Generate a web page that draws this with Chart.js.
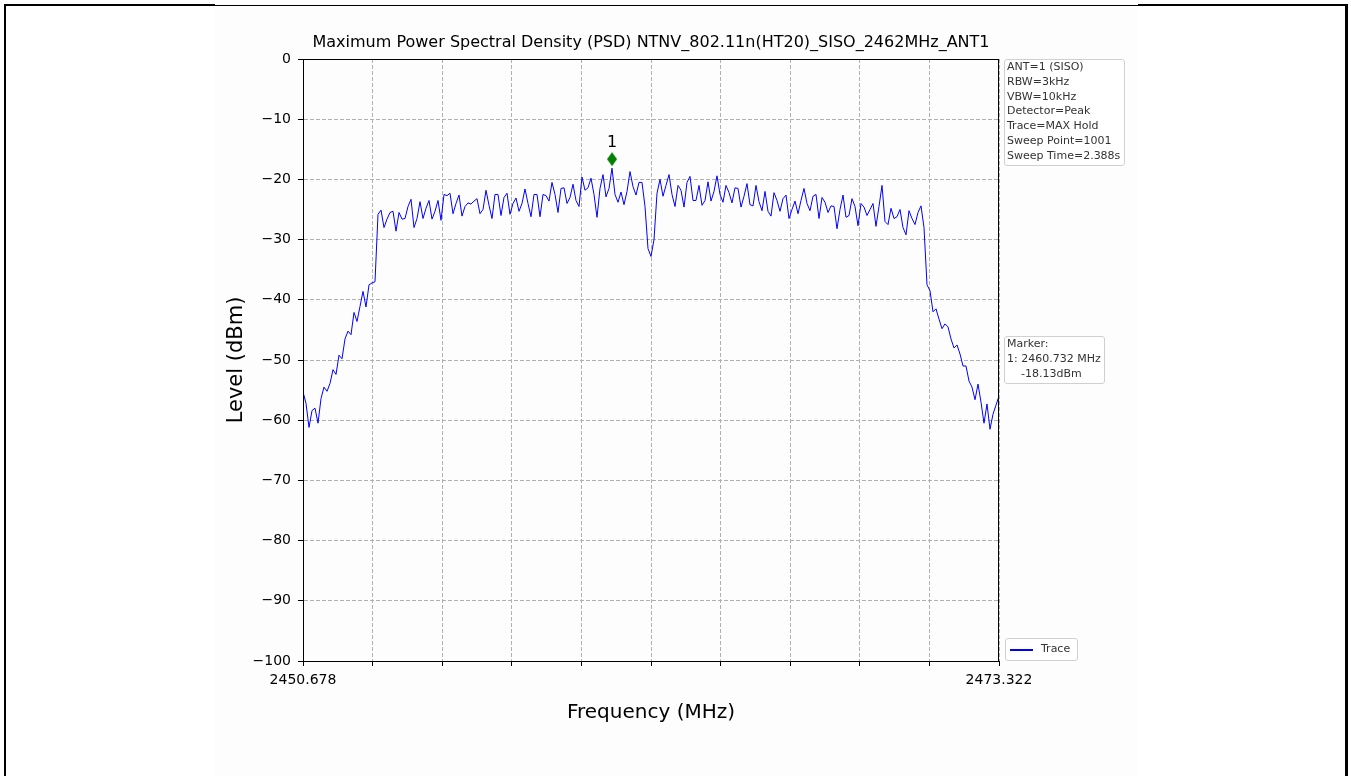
<!DOCTYPE html>
<html>
<head>
<meta charset="utf-8">
<title>PSD NTNV_802.11n(HT20)_SISO_2462MHz_ANT1</title>
<script src="https://cdn.jsdelivr.net/npm/chart.js@4.4.0/dist/chart.umd.min.js"></script>
<style>
  html, body { margin: 0; padding: 0; background: #fff; }
  body { width: 1351px; height: 776px; position: relative; overflow: hidden; font-family: 'DejaVu Sans', sans-serif; }
  .frame { position: absolute; left: 4px; top: 4px; width: 1339px; height: 800px;
           border-left: 2px solid #000; border-right: 3px solid #000; border-top: 2px solid #000; }
  .figure { position: absolute; left: 215px; top: 4px; width: 923px; height: 772px; background: #fdfdfd; }
  .figure .edge { position: absolute; left: 0; top: 1px; width: 100%; height: 1px; background: #000; }
  #psd { position: absolute; left: 0; top: 0; }
  .box { position: absolute; font-size: 11px; line-height: 14.8px; color: #333; background: rgba(255,255,255,0.85);
         border: 1px solid #d0d0d0; border-radius: 3px; padding: 0 2px; white-space: pre; box-sizing: border-box; }
  .legend-line { position: absolute; left: 4px; top: 10px; width: 23px; height: 1.5px; background: #0000ff; }
</style>
</head>
<body>
<div class="frame"></div>
<div class="figure"><div class="edge"></div></div>
<canvas id="psd" width="1351" height="776"></canvas>
<div class="box" id="setup" style="left:1004px; top:59px; width:121px; height:107px;"></div>
<div class="box" id="marker" style="left:1004px; top:336px; width:101px; height:48px;"></div>
<div class="box" style="left:1005px; top:638px; width:73px; height:23px;"><div class="legend-line"></div><span style="position:absolute; left:35px; top:3px;">Trace</span></div>
<script>
// sweep span
const freqStart = 2450.678;
const freqStop = 2473.322;

// trace levels (dBm), evenly spaced across the span
const levels = [
  -55.3, -57.2, -61.2, -58.4, -58.0, -60.5, -56.4, -54.5, -55.2, -53.9,
  -51.6, -52.4, -49.2, -49.8, -46.5, -45.2, -45.8, -42.1, -43.6, -41.1,
  -38.6, -41.2, -37.5, -37.2, -37.0, -25.8, -25.1, -28.0, -26.6, -25.5,
  -25.3, -28.6, -25.5, -26.6, -26.5, -24.5, -23.3, -28.0, -26.5, -23.7,
  -26.5, -24.8, -23.5, -26.6, -25.3, -23.5, -26.8, -22.5, -22.7, -22.3,
  -25.7, -24.0, -22.6, -26.1, -24.5, -23.9, -24.1, -23.6, -23.2, -25.7,
  -25.0, -21.8, -24.3, -26.5, -22.5, -22.5, -26.0, -23.0, -22.3, -25.8,
  -24.0, -23.1, -25.3, -24.0, -21.6, -24.0, -26.2, -22.5, -22.5, -26.2,
  -22.5, -22.7, -23.6, -20.5, -22.5, -25.5, -21.5, -21.4, -24.0, -23.0,
  -20.8, -23.5, -24.5, -19.6, -21.8, -21.4, -19.8, -22.5, -26.3, -21.5,
  -19.2, -22.9, -21.5, -18.13, -22.5, -23.8, -22.1, -24.2, -22.0, -18.7,
  -21.2, -22.6, -20.5, -20.5, -24.5, -31.5, -32.8, -30.0, -22.3, -20.0,
  -22.8, -21.0, -19.2, -22.5, -24.5, -21.0, -21.8, -24.6, -20.5, -19.5,
  -23.5, -23.5, -21.0, -24.3, -23.5, -20.4, -23.6, -22.0, -19.4, -22.5,
  -23.8, -21.0, -22.2, -23.9, -21.4, -21.5, -24.6, -22.8, -20.7, -24.2,
  -24.4, -21.0, -23.7, -25.2, -22.0, -25.3, -26.1, -22.2, -23.5, -25.3,
  -23.2, -22.6, -26.5, -25.0, -23.6, -25.7, -23.5, -21.5, -24.0, -25.2,
  -22.8, -22.5, -26.5, -23.0, -23.8, -25.5, -24.4, -24.5, -28.2, -25.0,
  -22.6, -26.3, -26.0, -23.2, -24.5, -27.7, -24.0, -24.6, -26.0, -25.0,
  -24.0, -27.8, -24.5, -21.0, -27.0, -27.5, -24.8, -26.5, -26.2, -25.0,
  -28.0, -29.2, -25.2, -26.5, -27.5, -25.5, -24.4, -28.0, -37.5, -38.5,
  -42.0, -41.5, -43.2, -44.8, -44.0, -44.5, -46.5, -48.0, -47.5, -49.0,
  -51.0, -51.0, -53.5, -54.5, -56.6, -54.0, -57.0, -60.5, -57.3, -61.5,
  -59.0, -57.5, -56.0
];

// marker 1
const markerFreq = 2460.732;
const markerLevel = -18.13;

// axis ticks: ten equal divisions of the span, labelled only at the ends
const xTickLabels = ['2450.678', '', '', '', '', '', '', '', '', '', '2473.322'];
const yMin = -100, yMax = 0, yStep = 10;

const setupLines = ['ANT=1 (SISO)', 'RBW=3kHz', 'VBW=10kHz', 'Detector=Peak',
                    'Trace=MAX Hold', 'Sweep Point=1001', 'Sweep Time=2.388s'];

document.getElementById('setup').textContent = setupLines.join('\n');
document.getElementById('marker').textContent =
  'Marker:\n1: ' + markerFreq.toFixed(3) + ' MHz\n    ' + markerLevel.toFixed(2) + 'dBm';

const freqStep = (freqStop - freqStart) / (levels.length - 1);
const trace = levels.map((v, i) => ({ x: freqStart + i * freqStep, y: v }));
const xTickValues = xTickLabels.map((_, i) => freqStart + i * (freqStop - freqStart) / (xTickLabels.length - 1));

// thin green diamond sitting just above its point
const diamond = document.createElement('canvas');
diamond.width = 12;
diamond.height = 36;
const dctx = diamond.getContext('2d');
dctx.fillStyle = '#008000';
dctx.beginPath();
dctx.moveTo(6, 2);
dctx.lineTo(11, 9);
dctx.lineTo(6, 16);
dctx.lineTo(1, 9);
dctx.closePath();
dctx.fill();

const frameAndMarkerLabel = {
  id: 'frameAndMarkerLabel',
  afterDraw(chart) {
    const { ctx, chartArea } = chart;
    ctx.save();
    ctx.strokeStyle = '#000';
    ctx.lineWidth = 1;
    ctx.strokeRect(Math.round(chartArea.left) + 0.5, Math.round(chartArea.top) + 0.5,
                   Math.round(chartArea.width) - 1, Math.round(chartArea.height));
    const pt = chart.getDatasetMeta(1).data[0];
    ctx.fillStyle = '#000';
    ctx.font = '16px "DejaVu Sans"';
    ctx.textAlign = 'center';
    ctx.textBaseline = 'middle';
    ctx.fillText('1', pt.x, pt.y - 25);
    ctx.restore();
  }
};

Chart.defaults.font.family = '"DejaVu Sans", sans-serif';
Chart.defaults.color = '#000';

const psdChart = new Chart(document.getElementById('psd').getContext('2d'), {
  type: 'line',
  data: {
    datasets: [{
      label: 'Trace',
      data: trace,
      borderColor: '#0000ff',
      borderWidth: 1,
      pointRadius: 0,
      tension: 0,
      fill: false
    }, {
      label: 'Marker 1',
      data: [{ x: markerFreq, y: markerLevel }],
      showLine: false,
      pointStyle: diamond,
      pointRadius: 6
    }]
  },
  options: {
    responsive: false,
    animation: false,
    layout: { padding: { left: 220, right: 352, top: 33, bottom: 47 } },
    plugins: {
      legend: { display: false },
      tooltip: { enabled: false },
      title: {
        display: true,
        fullSize: false,
        text: 'Maximum Power Spectral Density (PSD) NTNV_802.11n(HT20)_SISO_2462MHz_ANT1',
        font: { size: 16, weight: 'normal', lineHeight: 1.25 },
        color: '#000',
        padding: { top: 0, bottom: 6 }
      }
    },
    scales: {
      x: {
        type: 'linear',
        min: freqStart,
        max: freqStop,
        afterBuildTicks: axis => { axis.ticks = xTickValues.map(v => ({ value: v })); },
        afterFit: axis => { axis.height = 68; },
        ticks: {
          autoSkip: false,
          maxRotation: 0,
          padding: 6,
          font: { size: 14 },
          callback: (value, index) => xTickLabels[index]
        },
        grid: { color: '#b0b0b0', lineWidth: 1, tickColor: '#000', tickLength: 5 },
        border: { color: '#000', width: 1, dash: [4, 2] },
        title: { display: true, text: 'Frequency (MHz)', font: { size: 20 }, padding: { top: 4, bottom: 4 } }
      },
      y: {
        min: yMin,
        max: yMax,
        afterFit: axis => { axis.width = 83; },
        ticks: {
          stepSize: yStep,
          padding: 7,
          font: { size: 14 },
          callback: v => (v < 0 ? '\u2212' + (-v) : String(v))
        },
        grid: { color: '#b0b0b0', lineWidth: 1, tickColor: '#000', tickLength: 5 },
        border: { color: '#000', width: 1, dash: [4, 2] },
        title: { display: true, text: 'Level (dBm)', font: { size: 21 }, padding: { top: 4, bottom: 4 } }
      }
    }
  },
  plugins: [frameAndMarkerLabel]
});
</script>
</body>
</html>
